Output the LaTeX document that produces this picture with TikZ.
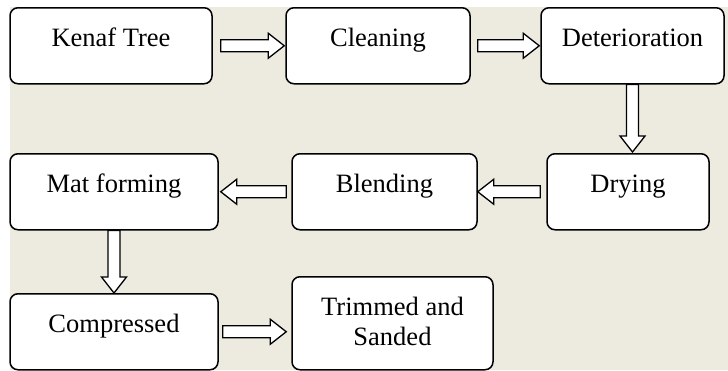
\documentclass[tikz,border=0pt]{standalone}
\usepackage{fontspec}
\setmainfont{Liberation Serif}
\usetikzlibrary{calc}

\definecolor{paper}{RGB}{237,234,224}

\begin{document}
\begin{tikzpicture}[x=1pt,y=1pt,
  box/.style={draw,line width=1.5pt,rounded corners=8pt,fill=white,anchor=north,
    inner sep=0pt,minimum height=76pt,text height=39pt,text depth=37pt,
    font=\fontsize{26.5}{30}\selectfont},
  fat/.style 2 args={draw,fill=white,line width=1.3pt,to path={
    let \p1=(\tikztostart), \p2=(\tikztotarget),
        \n1={atan2(\y2-\y1,\x2-\x1)}, \n2={veclen(\x2-\x1,\y2-\y1)} in
    ([shift={(\p1)},rotate=\n1]#1,6) -- ([shift={(\p1)},rotate=\n1]\n2-#2-16,6)
    -- ([shift={(\p1)},rotate=\n1]\n2-#2-16,12.5) -- ([shift={(\p1)},rotate=\n1]\n2-#2,0)
    -- ([shift={(\p1)},rotate=\n1]\n2-#2-16,-12.5) -- ([shift={(\p1)},rotate=\n1]\n2-#2-16,-6)
    -- ([shift={(\p1)},rotate=\n1]#1,-6) -- cycle}}]
  \useasboundingbox (0,0) rectangle (728,-370);
  \fill[paper] (10,-7) rectangle (728,-370);
  \node[box,minimum width=202pt] (kenaf) at (111,-7) {Kenaf Tree};
  \node[box,minimum width=184pt] (clean) at (378,-7) {Cleaning};
  \node[box,minimum width=183pt] (deter) at (632.5,-7) {Deterioration};
  \node[box,minimum width=208pt] (mat) at (114,-153) {Mat forming};
  \node[box,minimum width=185pt] (blend) at (384.5,-153) {Blending};
  \node[box,minimum width=162pt] (dry) at (628,-153) {Drying};
  \node[box,minimum width=208pt] (comp) at (114,-293) {Compressed};
  \node[box,minimum width=201pt,minimum height=93pt,text height=69pt,text depth=24pt,align=center] (trim) at (392.5,-276) {Trimmed and\\Sanded};
  \path[fat={8}{1}] (kenaf.east) to (clean.west);
  \path[fat={7}{1}] (clean.east) to (deter.west);
  \path[fat={0}{1}] (deter.south) to (deter.south |- dry.north);
  \path[fat={6}{0}] (dry.west) to (blend.east);
  \path[fat={5}{2}] (blend.west) to (mat.east);
  \path[fat={0}{0}] (mat.south) to (comp.north);
  \path[fat={4}{5}] (comp.east) to (comp.east -| trim.west);
\end{tikzpicture}
\end{document}
